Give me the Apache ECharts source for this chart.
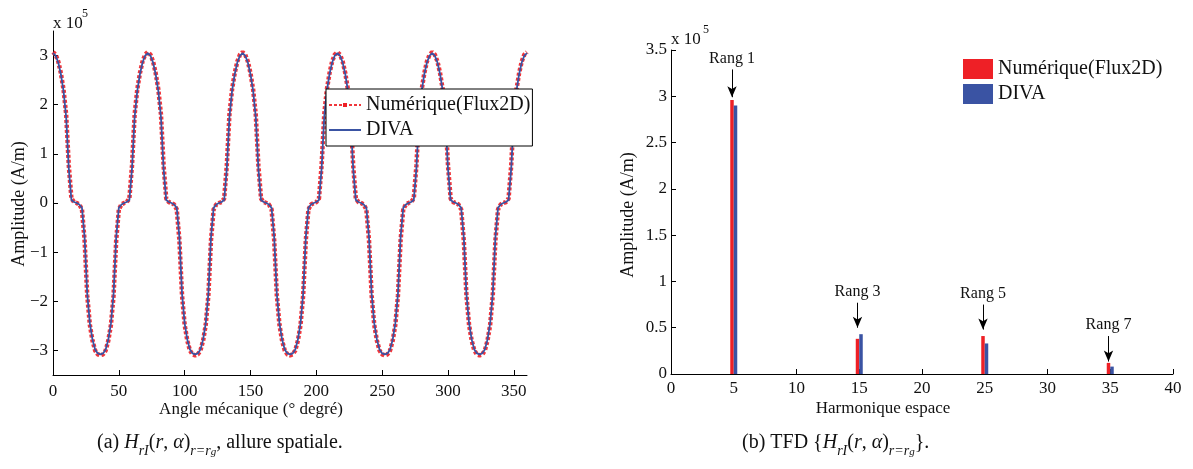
<!DOCTYPE html>
<html>
<head>
<meta charset="utf-8">
<script src="https://cdn.jsdelivr.net/npm/echarts@6/dist/echarts.min.js"></script>
<style>
html,body{margin:0;padding:0;background:#fff;}
#c{width:1193px;height:469px;}
</style>
</head>
<body>
<div id="c"></div>
<script>
// ---------- data (values in units of 10^5 A/m) ----------
const angleStep = 2; // degrees between samples, 0..360
const divaValues = [
  3.05, 3.00, 2.86, 2.62, 2.28, 1.75, 0.70, 0.06, 0.02, 0.00, -0.03, -0.10, -0.70, -1.85, -2.45, -2.78, -2.98, -3.06, -3.08, -3.06, -2.98, -2.78, -2.45, -1.85, -0.70, -0.10, -0.03, 0.00, 0.02, 0.06, 0.70, 1.75, 2.28, 2.62, 2.86, 3.00,
  3.05, 3.00, 2.86, 2.62, 2.28, 1.75, 0.70, 0.06, 0.02, 0.00, -0.03, -0.10, -0.70, -1.85, -2.45, -2.78, -2.98, -3.06, -3.08, -3.06, -2.98, -2.78, -2.45, -1.85, -0.70, -0.10, -0.03, 0.00, 0.02, 0.06, 0.70, 1.75, 2.28, 2.62, 2.86, 3.00,
  3.05, 3.00, 2.86, 2.62, 2.28, 1.75, 0.70, 0.06, 0.02, 0.00, -0.03, -0.10, -0.70, -1.85, -2.45, -2.78, -2.98, -3.06, -3.08, -3.06, -2.98, -2.78, -2.45, -1.85, -0.70, -0.10, -0.03, 0.00, 0.02, 0.06, 0.70, 1.75, 2.28, 2.62, 2.86, 3.00,
  3.05, 3.00, 2.86, 2.62, 2.28, 1.75, 0.70, 0.06, 0.02, 0.00, -0.03, -0.10, -0.70, -1.85, -2.45, -2.78, -2.98, -3.06, -3.08, -3.06, -2.98, -2.78, -2.45, -1.85, -0.70, -0.10, -0.03, 0.00, 0.02, 0.06, 0.70, 1.75, 2.28, 2.62, 2.86, 3.00,
  3.05, 3.00, 2.86, 2.62, 2.28, 1.75, 0.70, 0.06, 0.02, 0.00, -0.03, -0.10, -0.70, -1.85, -2.45, -2.78, -2.98, -3.06, -3.08, -3.06, -2.98, -2.78, -2.45, -1.85, -0.70, -0.10, -0.03, 0.00, 0.02, 0.06, 0.70, 1.75, 2.28, 2.62, 2.86, 3.00,
  3.05
];
const numericValues = [
  3.07, 3.02, 2.88, 2.64, 2.31, 1.80, 0.76, 0.09, 0.02, 0.00, -0.03, -0.13, -0.76, -1.88, -2.48, -2.80, -3.00, -3.08, -3.10, -3.08, -3.00, -2.80, -2.48, -1.88, -0.76, -0.13, -0.03, 0.00, 0.02, 0.09, 0.76, 1.80, 2.31, 2.64, 2.88, 3.02,
  3.07, 3.02, 2.88, 2.64, 2.31, 1.80, 0.76, 0.09, 0.02, 0.00, -0.03, -0.13, -0.76, -1.88, -2.48, -2.80, -3.00, -3.08, -3.10, -3.08, -3.00, -2.80, -2.48, -1.88, -0.76, -0.13, -0.03, 0.00, 0.02, 0.09, 0.76, 1.80, 2.31, 2.64, 2.88, 3.02,
  3.07, 3.02, 2.88, 2.64, 2.31, 1.80, 0.76, 0.09, 0.02, 0.00, -0.03, -0.13, -0.76, -1.88, -2.48, -2.80, -3.00, -3.08, -3.10, -3.08, -3.00, -2.80, -2.48, -1.88, -0.76, -0.13, -0.03, 0.00, 0.02, 0.09, 0.76, 1.80, 2.31, 2.64, 2.88, 3.02,
  3.07, 3.02, 2.88, 2.64, 2.31, 1.80, 0.76, 0.09, 0.02, 0.00, -0.03, -0.13, -0.76, -1.88, -2.48, -2.80, -3.00, -3.08, -3.10, -3.08, -3.00, -2.80, -2.48, -1.88, -0.76, -0.13, -0.03, 0.00, 0.02, 0.09, 0.76, 1.80, 2.31, 2.64, 2.88, 3.02,
  3.07, 3.02, 2.88, 2.64, 2.31, 1.80, 0.76, 0.09, 0.02, 0.00, -0.03, -0.13, -0.76, -1.88, -2.48, -2.80, -3.00, -3.08, -3.10, -3.08, -3.00, -2.80, -2.48, -1.88, -0.76, -0.13, -0.03, 0.00, 0.02, 0.09, 0.76, 1.80, 2.31, 2.64, 2.88, 3.02,
  3.07
];
const angleTicks = [0, 50, 100, 150, 200, 250, 300, 350];
const ampTicks = [-3, -2, -1, 0, 1, 2, 3];

const harmonics = [5, 15, 25, 35];
const harmNumeric = [2.96, 0.38, 0.41, 0.12];
const harmDiva = [2.90, 0.43, 0.33, 0.08];
const rangLabels = ['Rang 1', 'Rang 3', 'Rang 5', 'Rang 7'];
const rangArrowFrom = [3.29, 0.77, 0.75, 0.41];
const rangArrowTo = [2.99, 0.50, 0.48, 0.135];

const nameNum = 'Numérique(Flux2D)';
const nameDiva = 'DIVA';

// ---------- chart ----------
const RED = '#ee2026';
const BLUE = '#3a53a3';
const FONT = 'Liberation Serif';
const BLACK = '#111';

const toPairs = vals => vals.map((v, i) => [i * angleStep, v]);
const barPairs = vals => vals.map((v, i) => [harmonics[i], v]);

const axisCommon = {
  axisLine: { show: true, onZero: false, lineStyle: { color: '#000', width: 1 } },
  axisTick: { show: true, inside: true, length: 5, lineStyle: { color: '#000' } },
  splitLine: { show: false },
  axisLabel: { color: BLACK, fontFamily: FONT, fontSize: 17 }
};

const chart = echarts.init(document.getElementById('c'), null, { renderer: 'canvas' });

const capRich = {
  m: { fontFamily: FONT, fontSize: 20, lineHeight: 30, color: BLACK },
  i: { fontFamily: FONT, fontSize: 20, fontStyle: 'italic', lineHeight: 30, color: BLACK },
  s: { fontFamily: FONT, fontSize: 14, fontStyle: 'italic', lineHeight: 18, verticalAlign: 'bottom', color: BLACK },
  ss: { fontFamily: FONT, fontSize: 11, fontStyle: 'italic', lineHeight: 11, verticalAlign: 'bottom', color: BLACK }
};

chart.setOption({
  animation: false,
  backgroundColor: '#fff',
  grid: [
    { left: 53, top: 31, width: 474, height: 344 },
    { left: 671, top: 50, width: 502, height: 324 }
  ],
  xAxis: [
    Object.assign({}, axisCommon, {
      gridIndex: 0, type: 'value', min: 0, max: 360,
      axisTick: Object.assign({}, axisCommon.axisTick, { customValues: angleTicks }),
      axisLabel: Object.assign({}, axisCommon.axisLabel, { customValues: angleTicks, margin: 8 })
    }),
    Object.assign({}, axisCommon, {
      gridIndex: 1, type: 'value', min: 0, max: 40, interval: 5,
      axisLabel: Object.assign({}, axisCommon.axisLabel, { margin: 6 })
    })
  ],
  yAxis: [
    Object.assign({}, axisCommon, {
      gridIndex: 0, type: 'value', min: -3.5, max: 3.5,
      axisTick: Object.assign({}, axisCommon.axisTick, { customValues: ampTicks }),
      axisLabel: Object.assign({}, axisCommon.axisLabel, {
        customValues: ampTicks, margin: 5,
        formatter: v => String(v).replace('-', '\u2212')
      })
    }),
    Object.assign({}, axisCommon, {
      gridIndex: 1, type: 'value', min: 0, max: 3.5, interval: 0.5,
      axisLabel: Object.assign({}, axisCommon.axisLabel, { margin: 4 })
    })
  ],
  legend: [
    {
      data: [
        { name: nameNum },
        { name: nameDiva, itemStyle: { opacity: 0 } }
      ],
      orient: 'vertical', left: 326, top: 89,
      backgroundColor: '#fff', borderColor: '#000', borderWidth: 1,
      padding: [6, 2, 6, 2], itemGap: 5, itemWidth: 32, itemHeight: 5,
      textStyle: { fontFamily: FONT, fontSize: 20, color: BLACK, lineHeight: 20 },
      selectedMode: false
    },
    {
      data: [
        { name: nameNum, icon: 'rect', itemStyle: { color: RED } },
        { name: nameDiva, icon: 'rect', itemStyle: { color: BLUE } }
      ],
      orient: 'vertical', left: 963, top: 59,
      padding: 0, itemGap: 5, itemWidth: 30, itemHeight: 20,
      textStyle: { fontFamily: FONT, fontSize: 20, color: BLACK },
      selectedMode: false
    }
  ],
  series: [
    {
      name: nameNum, type: 'line', xAxisIndex: 0, yAxisIndex: 0,
      data: toPairs(numericValues),
      symbol: 'rect', symbolSize: 4, showSymbol: false,
      itemStyle: { color: RED },
      lineStyle: { color: RED, width: 4.5, type: [3, 2], opacity: 0.9 },
      z: 2
    },
    {
      name: nameDiva, type: 'line', xAxisIndex: 0, yAxisIndex: 0,
      data: toPairs(divaValues),
      symbol: 'none',
      itemStyle: { color: BLUE },
      lineStyle: { color: BLUE, width: 1.8 },
      z: 3
    },
    {
      name: nameNum, type: 'bar', xAxisIndex: 1, yAxisIndex: 1,
      data: barPairs(harmNumeric),
      barWidth: 3.5, barGap: '0%',
      itemStyle: { color: RED },
      markLine: {
        silent: true,
        symbol: ['none', 'arrow'], symbolSize: [7, 11],
        lineStyle: { color: '#000', width: 1, type: 'solid' },
        label: {
          show: true, position: 'start', distance: 3,
          formatter: p => p.name,
          fontFamily: FONT, fontSize: 16, color: BLACK
        },
        data: harmonics.map((h, i) => [
          { name: rangLabels[i], coord: [h, rangArrowFrom[i]] },
          { coord: [h, rangArrowTo[i]] }
        ])
      }
    },
    {
      name: nameDiva, type: 'bar', xAxisIndex: 1, yAxisIndex: 1,
      data: barPairs(harmDiva),
      barWidth: 3.5, barGap: '0%',
      itemStyle: { color: BLUE }
    }
  ],
  graphic: [
    // exponent labels
    { type: 'text', left: 53, top: 15, style: { text: 'x 10', font: '17px "Liberation Serif"', fill: BLACK } },
    { type: 'text', left: 82, top: 8, style: { text: '5', font: '12px "Liberation Serif"', fill: BLACK } },
    { type: 'text', left: 671, top: 31, style: { text: 'x 10', font: '17px "Liberation Serif"', fill: BLACK } },
    { type: 'text', left: 703, top: 24, style: { text: '5', font: '12px "Liberation Serif"', fill: BLACK } },
    // axis titles
    { type: 'text', x: 251, y: 410, style: { text: 'Angle mécanique (° degré)', font: '17px "Liberation Serif"', fill: BLACK, align: 'center', verticalAlign: 'middle' } },
    { type: 'text', x: 883, y: 409, style: { text: 'Harmonique espace', font: '17px "Liberation Serif"', fill: BLACK, align: 'center', verticalAlign: 'middle' } },
    { type: 'text', x: 19, y: 204, rotation: Math.PI / 2, style: { text: 'Amplitude (A/m)', font: '18px "Liberation Serif"', fill: BLACK, align: 'center', verticalAlign: 'middle' } },
    { type: 'text', x: 628, y: 215, rotation: Math.PI / 2, style: { text: 'Amplitude (A/m)', font: '18px "Liberation Serif"', fill: BLACK, align: 'center', verticalAlign: 'middle' } },
    // captions
    { type: 'text', x: 97, y: 443, style: {
      text: '{m|(a) }{i|H}{s|rI}{m|(}{i|r}{m|, }{i|α}{m|)}{s|r=r}{ss|g}{m|, allure spatiale.}',
      rich: capRich, align: 'left', verticalAlign: 'middle', font: '20px "Liberation Serif"', fill: BLACK } },
    { type: 'text', x: 742, y: 443, style: {
      text: '{m|(b) TFD {}{i|H}{s|rI}{m|(}{i|r}{m|, }{i|α}{m|)}{s|r=r}{ss|g}}.',
      rich: capRich, align: 'left', verticalAlign: 'middle', font: '20px "Liberation Serif"', fill: BLACK } }
  ]
});
</script>
</body>
</html>
